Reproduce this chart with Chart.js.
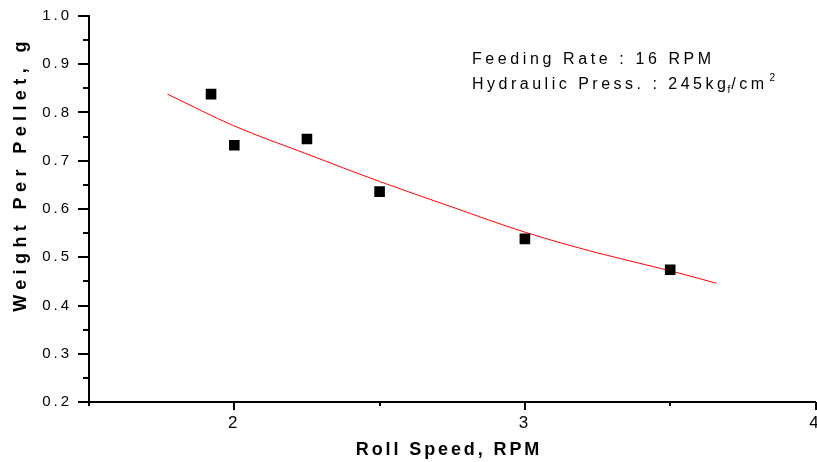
<!DOCTYPE html>
<html>
<head>
<meta charset="utf-8">
<script src="https://cdn.jsdelivr.net/npm/chart.js@4/dist/chart.umd.min.js"></script>
<style>
  html, body { margin: 0; padding: 0; background: #fff; overflow: hidden; }
  #wrap { width: 817px; height: 462px; overflow: hidden; }
  canvas { display: block; }
</style>
</head>
<body>
<div id="wrap"><canvas id="c" width="823" height="462"></canvas></div>
<script>
// Measured data (Roll Speed, RPM vs Weight Per Pellet, g)
const rollSpeed = [1.92, 2.0, 2.25, 2.5, 3.0, 3.5];
const weight = [0.838, 0.732, 0.745, 0.636, 0.538, 0.474];

// Fitted curve
const fitX = [1.77, 2.0, 2.25, 2.5, 2.75, 3.0, 3.25, 3.5, 3.66];
const fitY = [0.838, 0.772, 0.714, 0.657, 0.604, 0.552, 0.509, 0.472, 0.446];

// Axis settings / labels
const xMin = 1.5, xMax = 4, xStep = 0.5;
const yMin = 0.2, yMax = 1.0, yStep = 0.05;
const xTitle = 'Roll Speed, RPM';
const yTitle = 'Weight Per Pellet, g';
const noteLine1 = 'Feeding Rate : 16 RPM';
const noteLine2 = ['Hydraulic Press. : 245kg', 'f', '/cm', '2'];

const FONT = '"Liberation Sans", Arial, sans-serif';

function spacedText(ctx, text, x, y, font, spacing) {
  ctx.font = font;
  ctx.letterSpacing = spacing + 'px';
  ctx.fillText(text, x, y);
  return x + ctx.measureText(text).width;
}

const decorPlugin = {
  id: 'decor',
  beforeDraw(chart) {
    chart.ctx.letterSpacing = '3px';
  },
  afterDraw(chart) {
    const ctx = chart.ctx;
    const xs = chart.scales.x, ys = chart.scales.y;
    ctx.save();
    ctx.strokeStyle = '#000';
    ctx.lineWidth = 2;
    // y ticks (outward, major every 0.1)
    ys.ticks.forEach(t => {
      const major = Math.abs(Math.round(t.value * 10) - t.value * 10) < 1e-6;
      const py = Math.round(ys.getPixelForValue(t.value));
      const len = major ? 11 : 6;
      ctx.beginPath();
      ctx.moveTo(chart.chartArea.left, py);
      ctx.lineTo(chart.chartArea.left - len, py);
      ctx.stroke();
    });
    // x ticks (downward, major at integers)
    xs.ticks.forEach(t => {
      const major = Math.abs(t.value - Math.round(t.value)) < 1e-6;
      const px = Math.round(xs.getPixelForValue(t.value));
      const len = major ? 8 : 4;
      ctx.beginPath();
      ctx.moveTo(px, chart.chartArea.bottom);
      ctx.lineTo(px, chart.chartArea.bottom + len);
      ctx.stroke();
    });

    ctx.fillStyle = '#000';
    ctx.textBaseline = 'alphabetic';
    // x title
    ctx.textAlign = 'center';
    spacedText(ctx, xTitle, 449, 455, 'bold 18px ' + FONT, 2.9);
    // y title (rotated)
    ctx.save();
    ctx.translate(26, 174);
    ctx.rotate(-Math.PI / 2);
    spacedText(ctx, yTitle, 0, 0, 'bold 18px ' + FONT, 5.4);
    ctx.restore();

    // annotation
    ctx.textAlign = 'left';
    const f = '16px ' + FONT, fs = '10px ' + FONT;
    spacedText(ctx, noteLine1, 472, 64, f, 3.6);
    let x = spacedText(ctx, noteLine2[0], 472, 89, f, 3.5);
    x = spacedText(ctx, noteLine2[1], x - 2, 93, fs, 1);
    x = spacedText(ctx, noteLine2[2], x, 89, f, 3.5);
    spacedText(ctx, noteLine2[3], x + 2, 81, fs, 1);
    ctx.restore();
  }
};

new Chart(document.getElementById('c'), {
  type: 'scatter',
  data: {
    datasets: [
      {
        label: 'Fit',
        data: fitX.map((v, i) => ({ x: v, y: fitY[i] })),
        showLine: true,
        borderColor: '#ff0000',
        borderWidth: 1,
        pointRadius: 0,
        cubicInterpolationMode: 'monotone',
        fill: false,
        order: 2
      },
      {
        label: 'Data',
        data: rollSpeed.map((v, i) => ({ x: v, y: weight[i] })),
        pointStyle: 'rect',
        pointRadius: 7.5,
        backgroundColor: '#000',
        borderColor: '#000',
        borderWidth: 0,
        showLine: false,
        order: 1
      }
    ]
  },
  options: {
    responsive: false,
    animation: false,
    layout: { padding: { top: 16, right: 2, left: 0, bottom: 0 } },
    plugins: { legend: { display: false }, tooltip: { enabled: false } },
    scales: {
      x: {
        type: 'linear',
        min: xMin, max: xMax,
        grid: { display: true, drawOnChartArea: false, drawTicks: true, tickLength: 8, color: 'rgba(0,0,0,0)' },
        border: { display: true, color: '#000', width: 2 },
        ticks: {
          stepSize: xStep, autoSkip: false, maxRotation: 0, padding: 3,
          color: '#000', font: { family: FONT, size: 17 },
          callback: v => (Math.abs(v - Math.round(v)) < 1e-6 ? String(Math.round(v)) : '')
        },
        afterFit(s) { s.height = 60; s.paddingLeft = 0; s.paddingRight = 0; }
      },
      y: {
        type: 'linear',
        min: yMin, max: yMax,
        grid: { display: true, drawOnChartArea: false, drawTicks: true, tickLength: 11, color: 'rgba(0,0,0,0)' },
        border: { display: true, color: '#000', width: 2 },
        ticks: {
          stepSize: yStep, autoSkip: false, padding: 6,
          color: '#000', font: { family: FONT, size: 15 },
          callback: v => {
            const r = Math.round(v * 10);
            return Math.abs(r - v * 10) < 1e-6 ? (r / 10).toFixed(1) : '';
          }
        },
        afterFit(s) { s.width = 89; s.paddingTop = 0; s.paddingBottom = 0; }
      }
    }
  },
  plugins: [decorPlugin]
});
</script>
</body>
</html>
